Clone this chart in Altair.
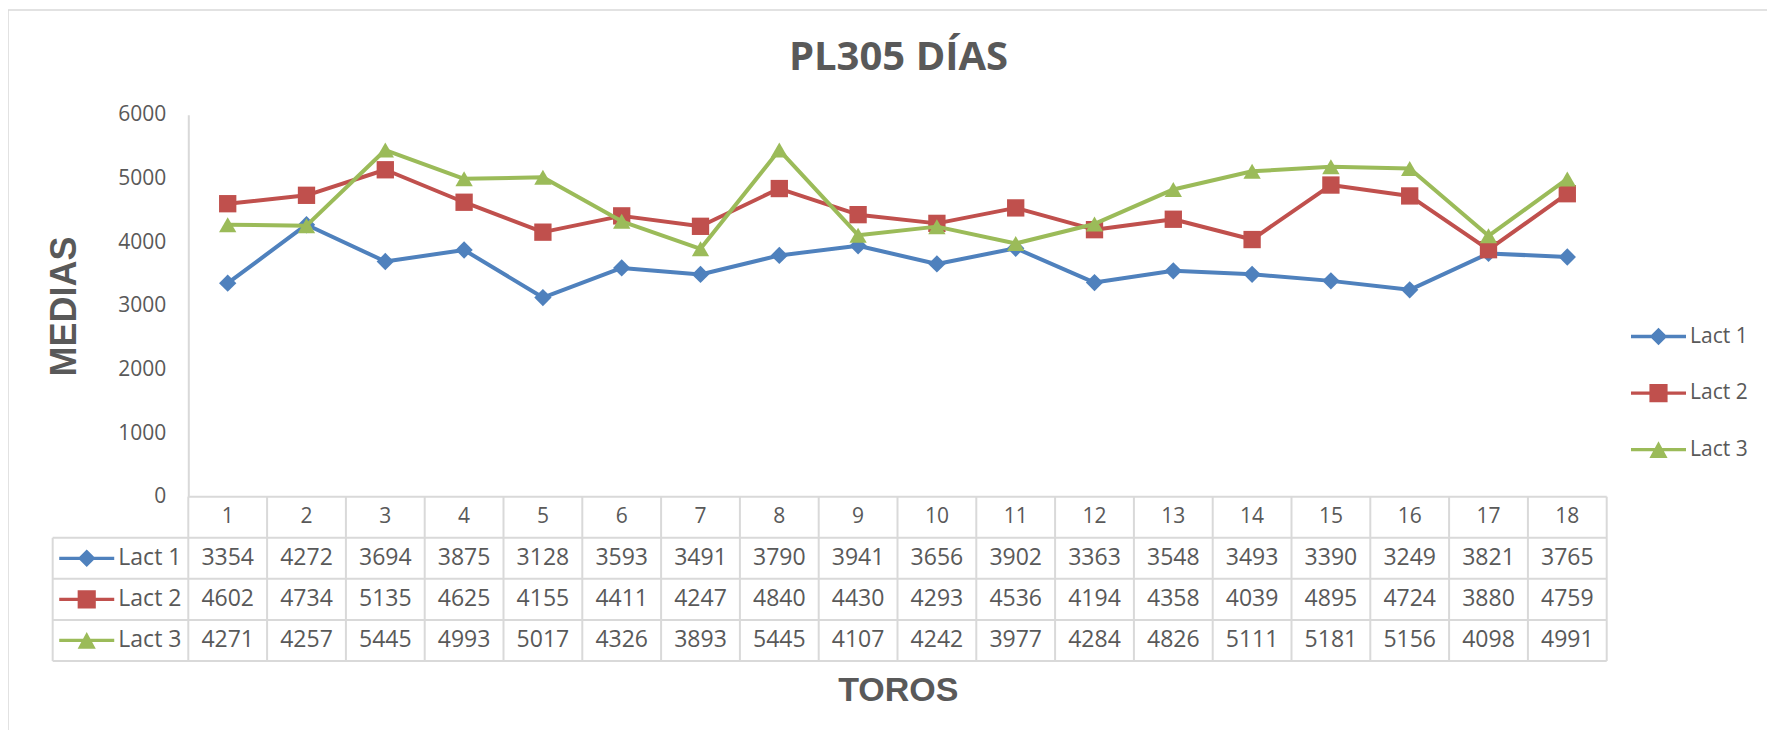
import altair as alt
import pandas as pd

# ------------------------------------------------------------------ data
toros = list(range(1, 19))
series_names = ["Lact 1", "Lact 2", "Lact 3"]
lact1 = [3354, 4272, 3694, 3875, 3128, 3593, 3491, 3790, 3941, 3656, 3902, 3363, 3548, 3493, 3390, 3249, 3821, 3765]
lact2 = [4602, 4734, 5135, 4625, 4155, 4411, 4247, 4840, 4430, 4293, 4536, 4194, 4358, 4039, 4895, 4724, 3880, 4759]
lact3 = [4271, 4257, 5445, 4993, 5017, 4326, 3893, 5445, 4107, 4242, 3977, 4284, 4826, 5111, 5181, 5156, 4098, 4991]
y_ticks = [0, 1000, 2000, 3000, 4000, 5000, 6000]
title_text = "PL305 DÍAS"
x_title = "TOROS"
y_title = "MEDIAS"

# ------------------------------------------------------------------ style
series_colors = ["#4F81BD", "#C0504D", "#9BBB59"]
marker_shapes = ["diamond", "square", "triangle-up"]
LINE_PATH = "M-1,-0.06L1,-0.06L1,0.06L-1,0.06Z"
key_paths = [
    LINE_PATH + "M0,-0.32L0.32,0L0,0.32L-0.32,0Z",
    LINE_PATH + "M-0.33,-0.33L0.33,-0.33L0.33,0.33L-0.33,0.33Z",
    LINE_PATH + "M0,-0.31L0.33,0.3L-0.33,0.3Z",
]
TXT = "#595959"
GRID = "#D9D9D9"
FONT = "Open Sans"
BOLD_FONT = "Liberation Sans"

# layout (view pixels)
W, H = 1763, 724
X_RANGE = [180.3, 1598.7]
Y_RANGE = [486.7, 104.7]
N_ROWS = 4
ROW_RANGE = [486.7, 651.0]
LABEL_LEFT = -1.221   # left border of the key column, in column units
KEY_X = -0.789
LABEL_X = -0.388

# ------------------------------------------------------------------ tables
values = [lact1, lact2, lact3]
long = pd.DataFrame(
    [
        {"toro": t, "series": s, "value": v, "rc": i + 1.5}
        for i, (s, vals) in enumerate(zip(series_names, values))
        for t, v in zip(toros, vals)
    ]
)
header = pd.DataFrame({"toro": toros, "rc": [0.5] * len(toros)})
keys = pd.DataFrame(
    {
        "series": series_names,
        "rc": [i + 1.5 for i in range(len(series_names))],
        "kx": [KEY_X] * len(series_names),
        "lx": [LABEL_X] * len(series_names),
    }
)
segs = []
for i in range(len(toros) + 1):
    b = 0.5 + i
    segs.append(dict(x=b, x2=b, y=0, y2=N_ROWS))
for r in range(N_ROWS + 1):
    segs.append(dict(x=0.5 if r == 0 else LABEL_LEFT, x2=len(toros) + 0.5, y=r, y2=r))
segs.append(dict(x=LABEL_LEFT, x2=LABEL_LEFT, y=1, y2=N_ROWS))
grid = pd.DataFrame(segs)

# ------------------------------------------------------------------ scales
xs = alt.Scale(domain=[0.5, len(toros) + 0.5], range=X_RANGE, zero=False, nice=False)
ys = alt.Scale(domain=[0, 6000], range=Y_RANGE, zero=False, nice=False)
rs = alt.Scale(domain=[0, N_ROWS], range=ROW_RANGE, zero=False, nice=False)
cs = alt.Scale(domain=series_names, range=series_colors)
ss = alt.Scale(domain=series_names, range=key_paths)

y_axis = alt.Axis(
    orient="left", offset=-180.3, values=y_ticks, format="d", title=y_title, grid=False,
    ticks=False, tickSize=0, labelPadding=22.6, labelFont=FONT, labelFontSize=21,
    labelColor=TXT, domainColor=GRID, domainWidth=2, titleFont=BOLD_FONT,
    titleFontSize=36, titleFontWeight="bold", titleColor=TXT, titleAngle=270,
    titleBaseline="middle", titleAlign="center", titleX=-123.8, titleY=296,
)


def title_axis(text, font, size, cx, cy):
    # an axis carrying only a title, placed at (cx, cy) in view pixels
    return alt.Axis(
        orient="right", offset=0, labels=False, ticks=False, domain=False, grid=False,
        title=text, titleFont=font, titleFontSize=size, titleFontWeight="bold",
        titleColor=TXT, titleAngle=0, titleBaseline="middle", titleAlign="center",
        titleX=cx - W, titleY=cy,
    )


legend = alt.Legend(
    orient="none", legendX=1623, legendY=299, title=None, labelFont=FONT,
    labelFontSize=21, labelColor=TXT, symbolSize=3025, symbolStrokeWidth=0,
    rowPadding=18.6, labelOffset=4, padding=0,
)

layers = []

# table grid (carries the x title)
layers.append(
    alt.Chart(grid).mark_rule(color=GRID, strokeWidth=2).encode(
        x=alt.X("x:Q", scale=xs, axis=None),
        x2="x2:Q",
        y=alt.Y("y:Q", scale=rs, axis=title_axis(x_title, BOLD_FONT, 34, 889.8, 680)),
        y2="y2:Q",
    )
)
# header numbers (carries the chart title)
layers.append(
    alt.Chart(header).mark_text(font=FONT, fontSize=21, color=TXT, align="center", baseline="middle").encode(
        x=alt.X("toro:Q", scale=xs, axis=None),
        y=alt.Y("rc:Q", scale=rs, axis=title_axis(title_text, FONT, 40, 890, 47.5)),
        text="toro:N",
    )
)
# table values
layers.append(
    alt.Chart(long).mark_text(font=FONT, fontSize=23, color=TXT, align="center", baseline="middle").encode(
        x=alt.X("toro:Q", scale=xs, axis=None),
        y=alt.Y("rc:Q", scale=rs, axis=None),
        text="value:Q",
    )
)
# table key labels
layers.append(
    alt.Chart(keys).mark_text(font=FONT, fontSize=23, color=TXT, align="left", baseline="middle").encode(
        x=alt.X("lx:Q", scale=xs, axis=None),
        y=alt.Y("rc:Q", scale=rs, axis=None),
        text="series:N",
    )
)
# table key symbols (also carry the legend)
layers.append(
    alt.Chart(keys).mark_point(filled=True, opacity=1, size=3025, strokeWidth=0).encode(
        x=alt.X("kx:Q", scale=xs, axis=None),
        y=alt.Y("rc:Q", scale=rs, axis=None),
        color=alt.Color("series:N", scale=cs, legend=legend),
        shape=alt.Shape("series:N", scale=ss, legend=legend),
    )
)

# series: line then markers
for i, s in enumerate(series_names):
    first = i == 0
    layers.append(
        alt.Chart(long).transform_filter(alt.datum.series == s).mark_line(
            strokeWidth=4, strokeJoin="round", strokeCap="round"
        ).encode(
            x=alt.X("toro:Q", scale=xs, axis=None),
            y=alt.Y("value:Q", scale=ys, axis=y_axis if first else None),
            color=alt.Color("series:N", scale=cs, legend=None),
        )
    )
    layers.append(
        alt.Chart(long).transform_filter(alt.datum.series == s).mark_point(
            filled=True, opacity=1, size=300, strokeWidth=0, shape=marker_shapes[i]
        ).encode(
            x=alt.X("toro:Q", scale=xs, axis=None),
            y=alt.Y("value:Q", scale=ys, axis=None),
            color=alt.Color("series:N", scale=cs, legend=None),
        )
    )

chart = (
    alt.layer(*layers)
    .resolve_scale(y="independent")
    .properties(
        width=W,
        height=H,
        autosize=alt.AutoSizeParams(type="none"),
        padding={"left": 0, "top": 2, "right": -4, "bottom": -4},
        background="white",
    )
    .configure_view(stroke=GRID, strokeWidth=1.5)
)

chart.save("out.html", embed_options={"renderer": "svg", "actions": False})
